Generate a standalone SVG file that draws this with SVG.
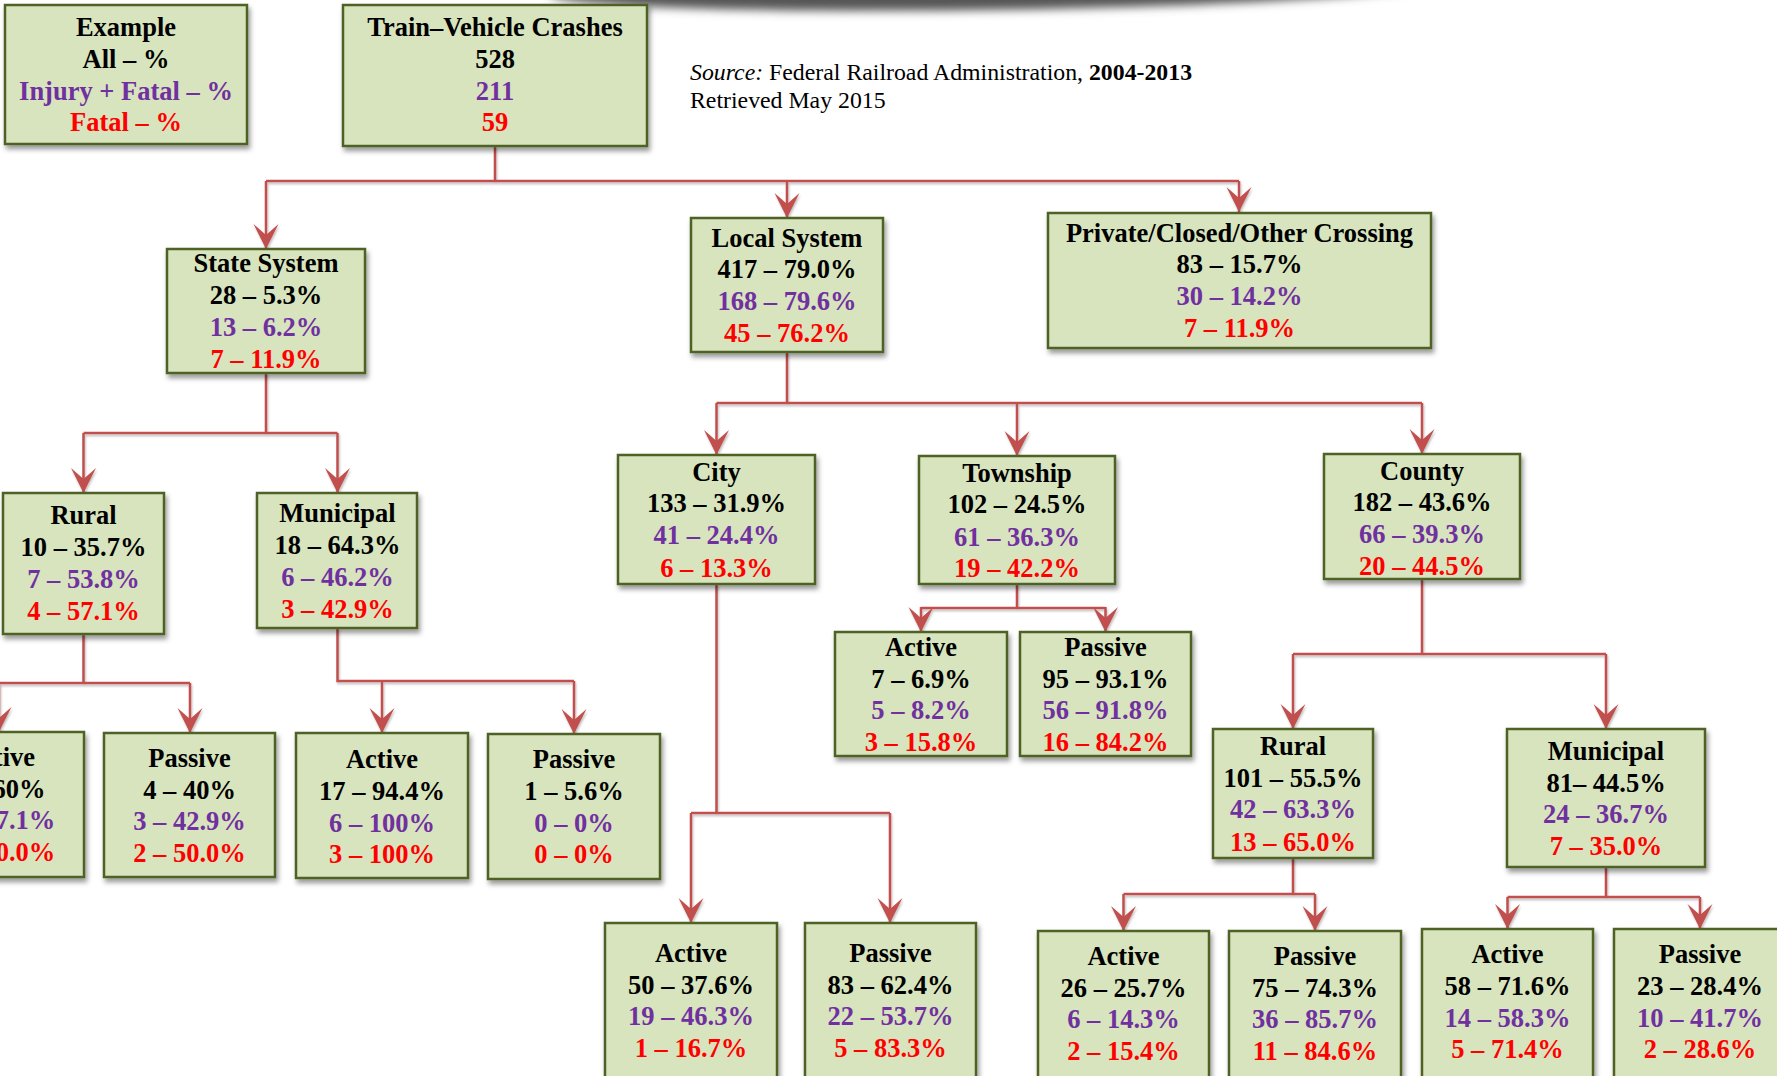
<svg xmlns="http://www.w3.org/2000/svg" width="1777" height="1076" viewBox="0 0 1777 1076">
<defs>
<style>
.box{fill:#D7E4BD;stroke:#4F6228;stroke-width:2.5;filter:url(#sh)}
.t{font-family:"Liberation Serif","Times New Roman",serif;font-weight:bold;font-size:26.5px;text-anchor:middle}
.k{fill:#000}.p{fill:#7030A0}.r{fill:#FF0000}
.c{fill:none;stroke:#C0504D;stroke-width:2.5}
.a{marker-end:url(#arr)}
.src{font-family:"Liberation Serif","Times New Roman",serif;font-size:23.8px;fill:#000}
</style>
<filter id="sh" x="-10%" y="-10%" width="130%" height="130%"><feDropShadow dx="2" dy="4" stdDeviation="2.5" flood-color="#000" flood-opacity="0.4"/></filter>
<filter id="lsh" x="-10%" y="-10%" width="130%" height="130%"><feDropShadow dx="1" dy="2" stdDeviation="1" flood-color="#000" flood-opacity="0.25"/></filter>
<filter id="blur" x="-20%" y="-100%" width="140%" height="300%"><feGaussianBlur stdDeviation="5"/></filter>
<marker id="arr" markerUnits="userSpaceOnUse" viewBox="-26 -14 28 28" refX="0" refY="0" markerWidth="28" markerHeight="28" orient="auto">
<path d="M0,0 L-25,-12.5 L-14,0 L-25,12.5 Z" fill="#C0504D"/>
</marker>
</defs>
<rect width="1777" height="1076" fill="#fff"/>
<ellipse cx="990" cy="-12" rx="440" ry="22" fill="#555" filter="url(#blur)" transform="rotate(-0.8 990 0)"/>

<g id="connectors" filter="url(#lsh)">
<path class="c" d="M495,146 V181 M266,181 H1239"/>
<path class="c a" d="M266,181 V249"/>
<path class="c a" d="M787,181 V218"/>
<path class="c a" d="M1239,181 V212"/>
<path class="c" d="M787,352 V403 M716.5,403 H1422"/>
<path class="c a" d="M716.5,403 V455"/>
<path class="c a" d="M1017,403 V456"/>
<path class="c a" d="M1422,403 V454"/>
<path class="c" d="M266,373 V433 M83.5,433 H337.5"/>
<path class="c a" d="M83.5,433 V493"/>
<path class="c a" d="M337.5,433 V493"/>
<path class="c" d="M83.5,634 V683 M-1,683 H190"/>
<path class="c a" d="M-1,683 V732"/>
<path class="c a" d="M190,683 V733"/>
<path class="c" d="M337.5,628 V681 H574"/>
<path class="c a" d="M382,681 V733"/>
<path class="c a" d="M574,681 V734"/>
<path class="c" d="M716.5,584 V813 M691,813 H890"/>
<path class="c a" d="M691,813 V923"/>
<path class="c a" d="M890,813 V923"/>
<path class="c" d="M1017,584 V608 M921,608 H1105.5"/>
<path class="c a" d="M921,607 V632"/>
<path class="c a" d="M1105.5,607 V632"/>
<path class="c" d="M1422,579 V654 M1293,654 H1606"/>
<path class="c a" d="M1293,654 V729"/>
<path class="c a" d="M1606,654 V729"/>
<path class="c" d="M1293,858 V894 M1123.5,894 H1315"/>
<path class="c a" d="M1123.5,894 V931"/>
<path class="c a" d="M1315,894 V931"/>
<path class="c" d="M1606,867 V897 M1507.5,897 H1700"/>
<path class="c a" d="M1507.5,897 V929"/>
<path class="c a" d="M1700,897 V929"/>
</g>

<g id="example"><rect class="box" x="5" y="5" width="242" height="139"/>
<text class="t k" x="126" y="36">Example</text><text class="t k" x="126" y="68">All – %</text><text class="t p" x="126" y="100">Injury + Fatal – %</text><text class="t r" x="126" y="131">Fatal – %</text></g>

<g id="root"><rect class="box" x="343" y="5" width="304" height="141"/>
<text class="t k" x="495" y="36">Train–Vehicle Crashes</text><text class="t k" x="495" y="68">528</text><text class="t p" x="495" y="100">211</text><text class="t r" x="495" y="131">59</text></g>

<g id="source"><text class="src" x="690" y="80"><tspan font-style="italic">Source:</tspan> Federal Railroad Administration, <tspan font-weight="bold">2004-2013</tspan></text>
<text class="src" x="690" y="108">Retrieved May 2015</text></g>

<g id="state"><rect class="box" x="167" y="249" width="198" height="124"/>
<text class="t k" x="266" y="272">State System</text><text class="t k" x="266" y="304">28 – 5.3%</text><text class="t p" x="266" y="336">13 – 6.2%</text><text class="t r" x="266" y="368">7 – 11.9%</text></g>

<g id="local"><rect class="box" x="691" y="218" width="192" height="134"/>
<text class="t k" x="787" y="247">Local System</text><text class="t k" x="787" y="278">417 – 79.0%</text><text class="t p" x="787" y="310">168 – 79.6%</text><text class="t r" x="787" y="342">45 – 76.2%</text></g>

<g id="private"><rect class="box" x="1048" y="213" width="383" height="135"/>
<text class="t k" x="1239.5" y="242">Private/Closed/Other Crossing</text><text class="t k" x="1239.5" y="273">83 – 15.7%</text><text class="t p" x="1239.5" y="305">30 – 14.2%</text><text class="t r" x="1239.5" y="337">7 – 11.9%</text></g>

<g id="city"><rect class="box" x="618" y="455" width="197" height="129"/>
<text class="t k" x="716.5" y="481">City</text><text class="t k" x="716.5" y="512">133 – 31.9%</text><text class="t p" x="716.5" y="544">41 – 24.4%</text><text class="t r" x="716.5" y="577">6 – 13.3%</text></g>

<g id="township"><rect class="box" x="919" y="456" width="196" height="128"/>
<text class="t k" x="1017" y="482">Township</text><text class="t k" x="1017" y="513">102 – 24.5%</text><text class="t p" x="1017" y="546">61 – 36.3%</text><text class="t r" x="1017" y="577">19 – 42.2%</text></g>

<g id="county"><rect class="box" x="1324" y="454" width="196" height="125"/>
<text class="t k" x="1422" y="480">County</text><text class="t k" x="1422" y="511">182 – 43.6%</text><text class="t p" x="1422" y="543">66 – 39.3%</text><text class="t r" x="1422" y="575">20 – 44.5%</text></g>

<g id="state-rural"><rect class="box" x="3" y="493" width="161" height="141"/>
<text class="t k" x="83.5" y="524">Rural</text><text class="t k" x="83.5" y="556">10 – 35.7%</text><text class="t p" x="83.5" y="588">7 – 53.8%</text><text class="t r" x="83.5" y="620">4 – 57.1%</text></g>

<g id="state-municipal"><rect class="box" x="257" y="493" width="160" height="135"/>
<text class="t k" x="337.5" y="522">Municipal</text><text class="t k" x="337.5" y="554">18 – 64.3%</text><text class="t p" x="337.5" y="586">6 – 46.2%</text><text class="t r" x="337.5" y="618">3 – 42.9%</text></g>

<g id="township-active"><rect class="box" x="835" y="632" width="172" height="124"/>
<text class="t k" x="921" y="656">Active</text><text class="t k" x="921" y="688">7 – 6.9%</text><text class="t p" x="921" y="719">5 – 8.2%</text><text class="t r" x="921" y="751">3 – 15.8%</text></g>

<g id="township-passive"><rect class="box" x="1020" y="632" width="171" height="124"/>
<text class="t k" x="1105.5" y="656">Passive</text><text class="t k" x="1105.5" y="688">95 – 93.1%</text><text class="t p" x="1105.5" y="719">56 – 91.8%</text><text class="t r" x="1105.5" y="751">16 – 84.2%</text></g>

<g id="county-rural"><rect class="box" x="1213" y="729" width="160" height="129"/>
<text class="t k" x="1293" y="755">Rural</text><text class="t k" x="1293" y="787">101 – 55.5%</text><text class="t p" x="1293" y="818">42 – 63.3%</text><text class="t r" x="1293" y="851">13 – 65.0%</text></g>

<g id="county-municipal"><rect class="box" x="1507" y="729" width="198" height="138"/>
<text class="t k" x="1606" y="760">Municipal</text><text class="t k" x="1606" y="792">81– 44.5%</text><text class="t p" x="1606" y="823">24 – 36.7%</text><text class="t r" x="1606" y="855">7 – 35.0%</text></g>

<g id="state-rural-active"><rect class="box" x="-87" y="732" width="171" height="145"/>
<text class="t k" x="-1" y="766">Active</text><text class="t k" x="-1" y="798">6 – 60%</text><text class="t p" x="-1" y="829">4 – 57.1%</text><text class="t r" x="-1" y="861">2 – 50.0%</text></g>

<g id="state-rural-passive"><rect class="box" x="104" y="733" width="171" height="144"/>
<text class="t k" x="189.5" y="767">Passive</text><text class="t k" x="189.5" y="799">4 – 40%</text><text class="t p" x="189.5" y="830">3 – 42.9%</text><text class="t r" x="189.5" y="862">2 – 50.0%</text></g>

<g id="state-municipal-active"><rect class="box" x="296" y="733" width="172" height="145"/>
<text class="t k" x="382" y="768">Active</text><text class="t k" x="382" y="800">17 – 94.4%</text><text class="t p" x="382" y="832">6 – 100%</text><text class="t r" x="382" y="863">3 – 100%</text></g>

<g id="state-municipal-passive"><rect class="box" x="488" y="734" width="172" height="145"/>
<text class="t k" x="574" y="768">Passive</text><text class="t k" x="574" y="800">1 – 5.6%</text><text class="t p" x="574" y="832">0 – 0%</text><text class="t r" x="574" y="863">0 – 0%</text></g>

<g id="city-active"><rect class="box" x="605" y="923" width="172" height="170"/>
<text class="t k" x="691" y="962">Active</text><text class="t k" x="691" y="994">50 – 37.6%</text><text class="t p" x="691" y="1025">19 – 46.3%</text><text class="t r" x="691" y="1057">1 – 16.7%</text></g>

<g id="city-passive"><rect class="box" x="805" y="923" width="171" height="170"/>
<text class="t k" x="890.5" y="962">Passive</text><text class="t k" x="890.5" y="994">83 – 62.4%</text><text class="t p" x="890.5" y="1025">22 – 53.7%</text><text class="t r" x="890.5" y="1057">5 – 83.3%</text></g>

<g id="county-rural-active"><rect class="box" x="1038" y="931" width="171" height="170"/>
<text class="t k" x="1123.5" y="965">Active</text><text class="t k" x="1123.5" y="997">26 – 25.7%</text><text class="t p" x="1123.5" y="1028">6 – 14.3%</text><text class="t r" x="1123.5" y="1060">2 – 15.4%</text></g>

<g id="county-rural-passive"><rect class="box" x="1229" y="931" width="172" height="170"/>
<text class="t k" x="1315" y="965">Passive</text><text class="t k" x="1315" y="997">75 – 74.3%</text><text class="t p" x="1315" y="1028">36 – 85.7%</text><text class="t r" x="1315" y="1060">11 – 84.6%</text></g>

<g id="county-municipal-active"><rect class="box" x="1422" y="929" width="171" height="170"/>
<text class="t k" x="1507.5" y="963">Active</text><text class="t k" x="1507.5" y="995">58 – 71.6%</text><text class="t p" x="1507.5" y="1027">14 – 58.3%</text><text class="t r" x="1507.5" y="1058">5 – 71.4%</text></g>

<g id="county-municipal-passive"><rect class="box" x="1614" y="929" width="172" height="170"/>
<text class="t k" x="1700" y="963">Passive</text><text class="t k" x="1700" y="995">23 – 28.4%</text><text class="t p" x="1700" y="1027">10 – 41.7%</text><text class="t r" x="1700" y="1058">2 – 28.6%</text></g>
</svg>
